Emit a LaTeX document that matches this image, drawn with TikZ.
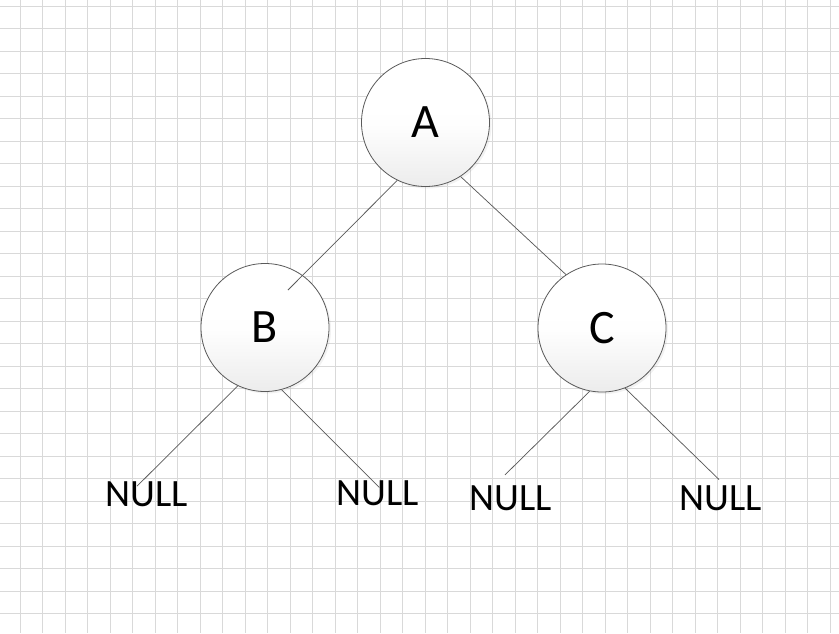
\documentclass[tikz,border=0pt]{standalone}
\usepackage{fontspec}
\setmainfont{Carlito}
\usepackage{tikz}
\usetikzlibrary{calc,shadows}
\definecolor{trgrid}{RGB}{217,217,217}
\definecolor{trline}{RGB}{90,90,90}
\definecolor{trbottom}{RGB}{236,236,236}

\begin{document}
\begin{tikzpicture}[x=0.75pt, y=-0.75pt,
  gridline/.style={draw=trgrid, line width=0.75pt},
  vertex/.style={circle, draw=trline, line width=0.6pt, minimum size=96pt, inner sep=0pt,
    top color=white, bottom color=trbottom, middle color=white!97!trbottom,
    font=\fontsize{36}{40}\selectfont,
    drop shadow={opacity=0.1, shadow xshift=1.5pt, shadow yshift=-1.5pt}},
  leaf/.style={inner sep=0pt, font=\fontsize{29}{34}\selectfont},
  edge/.style={draw=trline, line width=0.55pt}
]
  \useasboundingbox (0,0) rectangle (839,633);
  \fill[white] (0,0) rectangle (839,633);

  % background grid
  \begin{scope}
    \clip (0,0) rectangle (839,633);
    \foreach \i in {0,...,36} \draw[gridline] (20.3+22.5*\i,0) -- ++(0,633);
    \foreach \j in {0,...,27} \draw[gridline] (0,6+22.5*\j) -- ++(839,0);
  \end{scope}

  % tree nodes
  \node[vertex] (A) at (425.5,122.5) {A};
  \node[vertex] (B) at (265,327.5) {B};
  \node[vertex] (C) at (602,328) {C};

  % null leaves
  \node[leaf] (nb1) at (147,494) {NULL};
  \node[leaf] (nb2) at (378,493) {NULL};
  \node[leaf] (nc1) at (510.5,498) {NULL};
  \node[leaf] (nc2) at (721,498) {NULL};

  % edges
  \draw[edge] (A.244) -- ($(B)+(23,-37.5)$);
  \draw[edge] (A.303) -- (C.124);
  \draw[edge] (B.245) -- ([shift={(-10,5)}]nb1.north);
  \draw[edge] (B.285) -- ([shift={(1.3,7.3)}]nb2.north);
  \draw[edge] (C.259) -- ([shift={(-5.5,-10.3)}]nc1.north);
  \draw[edge] (C.291) -- ([shift={(-2,-5.7)}]nc2.north);
\end{tikzpicture}
\end{document}
